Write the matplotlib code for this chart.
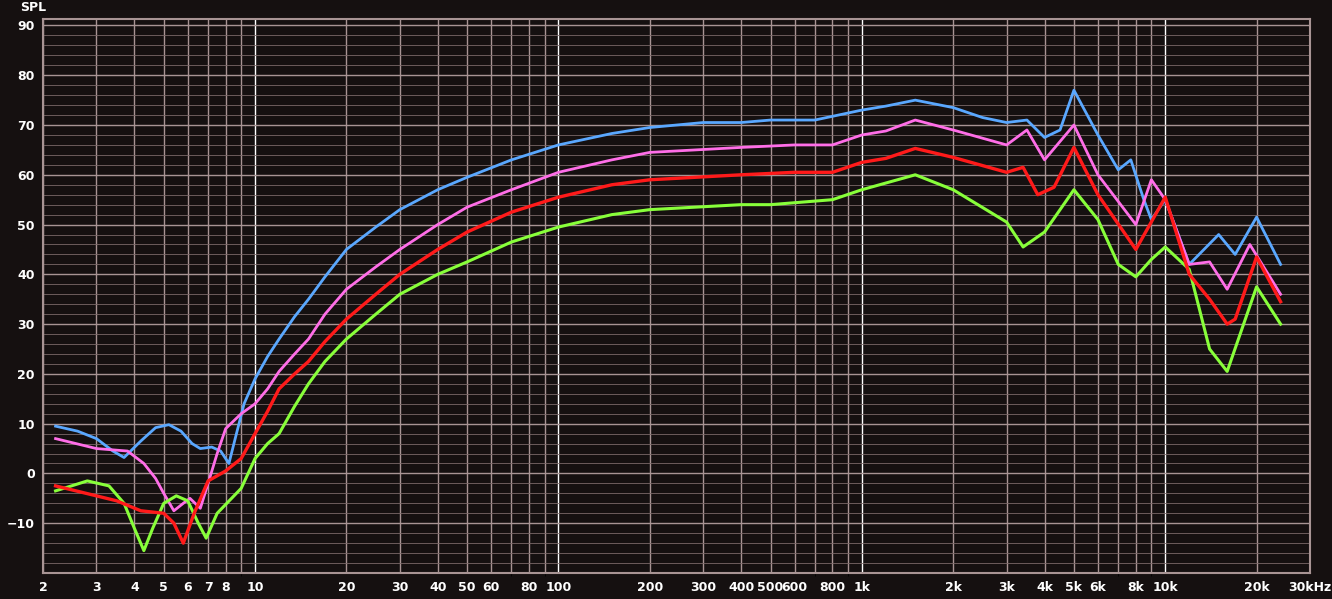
import numpy as np
import matplotlib
matplotlib.use("Agg")
import matplotlib.pyplot as plt
from matplotlib.ticker import FixedLocator, NullFormatter

blue_f = [2.2, 2.6, 3, 3.4, 3.7, 4.2, 4.7, 5.2, 5.7, 6.2, 6.6, 7.2, 7.7, 8.2, 8.6, 9.2, 10, 11, 12, 13.5, 15, 17, 20, 25, 30, 40, 50, 70, 100, 150, 200, 300, 400, 500, 700, 1000, 1200, 1500, 2000, 2500, 3000, 3500, 4000, 4500, 5000, 6000, 7000, 7700, 8500, 9000, 10000, 12000, 15000, 17000, 20000, 24000]
blue_v = [9.5, 8.5, 7, 4.5, 3.2, 6.5, 9.2, 9.8, 8.5, 6, 5, 5.3, 4.5, 2, 7, 14, 19, 23.5, 27, 31.5, 35, 39.5, 45, 49.5, 53, 57, 59.5, 63, 66, 68.3, 69.5, 70.5, 70.5, 71, 71, 73, 73.8, 75, 73.5, 71.5, 70.5, 71, 67.5, 69, 77, 68, 61, 63, 55, 51, 55, 42, 48, 44, 51.5, 42]

pink_f = [2.2, 3, 3.8, 4.3, 4.7, 5, 5.4, 5.8, 6.1, 6.6, 7, 7.5, 8, 9, 10, 11, 12, 13.5, 15, 17, 20, 25, 30, 40, 50, 70, 100, 150, 200, 400, 600, 800, 1000, 1200, 1500, 2000, 3000, 3500, 4000, 5000, 6000, 8000, 9000, 10000, 12000, 14000, 16000, 19000, 24000]
pink_v = [7, 5, 4.5, 2, -1, -4, -7.5, -6, -5, -7, -2, 4, 9, 12, 14, 17, 20.5, 24, 27, 32, 37, 41.5, 45, 50, 53.5, 57, 60.5, 63, 64.5, 65.5, 66, 66, 68, 68.8, 71, 69, 66, 69, 63, 70, 60, 50, 59, 55, 42, 42.5, 37, 46, 36]

red_f = [2.2, 3, 3.5, 4.2, 5, 5.4, 5.8, 6.3, 7, 8, 9, 10, 11, 12, 13.5, 15, 17, 20, 25, 30, 40, 50, 70, 100, 150, 200, 400, 600, 800, 1000, 1200, 1500, 2000, 3000, 3400, 3800, 4300, 5000, 6000, 8000, 10000, 12000, 14000, 16000, 17000, 20000, 24000]
red_v = [-2.5, -4.5, -5.5, -7.5, -8, -10, -14, -8, -1.5, 0.5, 3, 8, 12.5, 17, 20, 22.5, 26.5, 31, 36, 40, 45, 48.5, 52.5, 55.5, 58, 59, 60, 60.5, 60.5, 62.5, 63.3, 65.3, 63.5, 60.5, 61.5, 56, 57.5, 65.5, 56, 45, 55.5, 40, 35, 30, 31, 43.5, 34.5]

green_f = [2.2, 2.8, 3.3, 3.7, 4, 4.3, 4.6, 5, 5.5, 6, 6.5, 6.9, 7.5, 9, 10, 11, 12, 13.5, 15, 17, 20, 25, 30, 40, 50, 70, 100, 150, 200, 400, 500, 800, 1000, 1500, 2000, 3000, 3400, 4000, 5000, 6000, 7000, 8000, 9000, 10000, 12000, 14000, 16000, 20000, 24000]
green_v = [-3.5, -1.5, -2.5, -6, -11, -15.5, -11, -6, -4.5, -5.5, -10, -13, -8, -3, 3, 6, 8, 13.5, 18, 22.5, 27, 32, 36, 40, 42.5, 46.5, 49.5, 52, 53, 54, 54, 55, 57, 60, 57, 50.5, 45.5, 48.5, 57, 51, 42, 39.5, 43, 45.5, 41, 25, 20.5, 37.5, 30]

xtick_vals = [2, 3, 4, 5, 6, 7, 8, 10, 20, 30, 40, 50, 60, 80, 100, 200, 300, 400, 500, 600, 800,
              1000, 2000, 3000, 4000, 5000, 6000, 8000, 10000, 20000, 30000]
xtick_labels = ["2", "3", "4", "5", "6", "7", "8", "10", "20", "30", "40", "50", "60", "80", "100",
                "200", "300", "400", "500", "600", "800", "1k", "2k", "3k", "4k", "5k", "6k", "8k",
                "10k", "20k", "30kHz"]

bg = "#151010"
gridc = "#a89494"

fig = plt.figure(figsize=(13.32, 5.99), dpi=100, facecolor=bg)
ax = fig.add_axes([43/1332, 26/599, 1267/1332, 554/599], facecolor=bg)
ax.set_xscale("log")
ax.set_xlim(2, 30000)
ax.set_ylim(-20, 91.3)

# grid: all minor freq lines + every 2 dB
minor_x = [m * 10**d for d in range(0, 5) for m in range(1, 10) if 2 <= m * 10**d <= 30000]
for f in minor_x:
    c = "#ffffff" if f in (10, 100, 1000, 10000) else gridc
    ax.axvline(f, color=c, lw=1.0, zorder=1)
for yv in range(-18, 92, 2):
    if yv % 10 == 0:
        ax.axhline(yv, color=gridc, lw=1.0, zorder=1)
    else:
        ax.axhline(yv, color="#7a6868", lw=0.6, zorder=1)

ax.plot(blue_f, blue_v, color="#5aa8ff", lw=2, zorder=3)
ax.plot(pink_f, pink_v, color="#ff6ee8", lw=2, zorder=3)
ax.plot(red_f, red_v, color="#ff1a1a", lw=2.4, zorder=4)
ax.plot(green_f, green_v, color="#88ff3a", lw=2.2, zorder=3)

ax.xaxis.set_major_locator(FixedLocator(xtick_vals))
ax.set_xticklabels(xtick_labels)
ax.xaxis.set_minor_formatter(NullFormatter())
ax.set_yticks(range(-10, 91, 10))
ax.tick_params(colors="white", length=0, labelsize=9, pad=6)
for lab in ax.get_xticklabels() + ax.get_yticklabels():
    lab.set_fontweight("bold")
for s in ax.spines.values():
    s.set_color(gridc)
    s.set_linewidth(1.5)
fig.text(20/1332, 1 - 14/599, "SPL", color="white", fontsize=9, fontweight="bold", va="bottom")

fig.savefig("out.png", facecolor=bg)
